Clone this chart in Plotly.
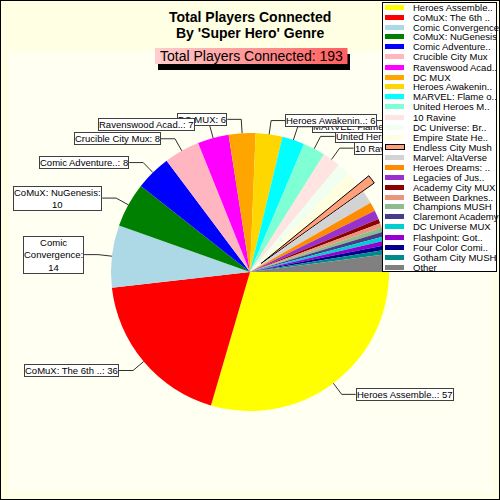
import math
import plotly.graph_objects as go

# ---------------- data ----------------
labels = ["Heroes Assemble..", "CoMuX: The 6th ..", "Comic Convergence", "CoMuX: NuGenesis",
          "Comic Adventure..", "Crucible City Mux", "Ravenswood Acad..", "DC MUX",
          "Heroes Awakenin..", "MARVEL: Flame o..", "United Heroes M..", "10 Ravine",
          "DC Universe: Br..", "Empire State He..", "Endless City Mush", "Marvel: AltaVerse",
          "Heroes Dreams: ..", "Legacies of Jus..", "Academy City MUX", "Between Darknes..",
          "Champions MUSH", "Claremont Academy", "DC Universe MUX", "Flashpoint: Got..",
          "Four Color Comi..", "Gotham City MUSH", "Other"]
players = [57, 36, 14, 10, 8, 8, 7, 6, 6, 5, 5, 4, 3, 3, 2, 3, 2, 2,
           1, 1, 1, 1, 1, 1, 1, 1, 4]
colors = ["#FFFF00", "#FF0000", "#ADD8E6", "#008000", "#0000FF", "#FFB6C1", "#FF00FF",
          "#FFA500", "#FFD700", "#00FFFF", "#7FFFD4", "#FFE4E1", "#F0FFF0", "#FFFFE0",
          "#FFA07A", "#D3D3D3", "#FF8C00", "#9932CC", "#8B0000", "#E9967A", "#8FBC8F",
          "#483D8B", "#00CED1", "#9400D3", "#00008B", "#008B8B", "#808080"]
exploded = "Endless City Mush"
title_lines = ["Total Players Connected", "By 'Super Hero' Genre"]
total = sum(players)
subtitle = f"Total Players Connected: {total}"

# ---------------- layout constants ----------------
W = H = 500
CX, CY, R = 250, 272, 139
PULL = 0.1
FONT = "Liberation Sans, Arial, sans-serif"
LABEL_MIN = 4

def px(x):
    return x / W

def py(y):
    return 1 - y / H

pulls = [PULL if l == exploded else 0 for l in labels]
line_w = [1 if l == exploded else 0 for l in labels]
half = R * (1 + max(pulls))

fig = go.Figure(go.Pie(
    labels=labels, values=players, sort=False, direction="clockwise", rotation=90,
    marker=dict(colors=colors, line=dict(color="#000000", width=line_w)),
    pull=pulls, textinfo="none", showlegend=False, hoverinfo="label+value+percent",
    domain=dict(x=[px(CX - half), px(CX + half)], y=[py(CY + half), py(CY - half)]),
))

shapes = []
annotations = []

# backgrounds
shapes.append(dict(type="rect", xref="paper", yref="paper", x0=px(9), x1=px(493),
                   y0=py(493), y1=py(51), fillcolor="#FFFFF2", line=dict(width=0), layer="below"))
shapes.append(dict(type="rect", xref="paper", yref="paper", x0=0, x1=1, y0=0, y1=1,
                   line=dict(color="#000000", width=2), layer="above"))

# title
for k, t in enumerate(title_lines):
    annotations.append(dict(text=f"<b>{t}</b>", x=px(250), y=py(17 + 16 * k), xref="paper",
                            yref="paper", xanchor="center", yanchor="middle", showarrow=False,
                            font=dict(family=FONT, size=14, color="#000000")))

# subtitle box with shadow and gradient
bx0, bx1, by0, by1 = 155, 347, 48, 64
shapes.append(dict(type="rect", xref="paper", yref="paper", x0=px(bx0 + 3), x1=px(bx1 + 3),
                   y0=py(by1 + 6), y1=py(by0 + 6), fillcolor="#000000", line=dict(width=0),
                   layer="below"))
nstrip = 32
for s in range(nstrip):
    f = s / (nstrip - 1)
    g = int(205 - 110 * f)
    shapes.append(dict(type="rect", xref="paper", yref="paper",
                       x0=px(bx0 + (bx1 - bx0) * s / nstrip),
                       x1=px(bx0 + (bx1 - bx0) * (s + 1) / nstrip + 0.5),
                       y0=py(by1), y1=py(by0), fillcolor=f"rgb(255,{g},{g})",
                       line=dict(width=0), layer="below"))
annotations.append(dict(text=subtitle, x=px((bx0 + bx1) / 2), y=py((by0 + by1) / 2),
                        xref="paper", yref="paper", xanchor="center", yanchor="middle",
                        showarrow=False, font=dict(family=FONT, size=14, color="#000000")))

# slice labels with elbow leaders
CHAR_W = 4.6
lab_ann = []
cum = 0
for lab, v in zip(labels, players):
    mid = (cum + v / 2) / total * 2 * math.pi
    cum += v
    if v < LABEL_MIN or lab == "Other":
        continue
    c, s = math.cos(mid), math.sin(mid)
    ex, ey = CX + R * c, CY + R * s
    ebx, eby = CX + 1.1 * R * c, CY + 1.1 * R * s
    right = c > 0
    tx = ebx + 14 if right else ebx - 14
    shapes.append(dict(type="path", xref="paper", yref="paper",
                       path=f"M {px(ex)},{py(ey)} L {px(ebx)},{py(eby)} L {px(tx)},{py(eby)}",
                       line=dict(color="#303030", width=1), layer="above"))
    text = f"{lab}: {v}"
    avail = (W - tx - 10) if right else (tx - 12)
    if len(text) * CHAR_W > avail:
        maxc = avail / CHAR_W
        words = (lab + ":").split(" ")
        lines, cur = [], ""
        for w_ in words:
            cand = (cur + " " + w_).strip()
            if len(cand) <= maxc or not cur:
                cur = cand
            else:
                lines.append(cur)
                cur = w_
        lines.append(cur)
        lines.append(str(v))
        text = "<br>".join(lines)
    lab_ann.append(dict(text=text, x=px(tx), y=py(eby), xref="paper", yref="paper",
                        xanchor="left" if right else "right", yanchor="middle",
                        showarrow=False, align="center", bgcolor="#FFFFFF",
                        bordercolor="#404040", borderwidth=1, borderpad=0,
                        font=dict(family=FONT, size=9.5, color="#000000")))
annotations.extend(reversed(lab_ann))

# custom legend (drawn above labels)
LX0, LX1, LY0, LY1 = 382, 497, 2, 272
annotations.append(dict(text=" ", x=px(LX0), y=py(LY0), xref="paper", yref="paper",
                        xanchor="left", yanchor="top", showarrow=False, width=LX1 - LX0 - 2,
                        height=LY1 - LY0 - 2, bgcolor="#FFFFFF", bordercolor="#000000",
                        borderwidth=1, borderpad=0))
for i, (lab, col) in enumerate(zip(labels, colors)):
    yc = 7 + 10 * i
    is_ex = lab == exploded
    annotations.append(dict(text=" ", x=px(385), y=py(yc), xref="paper", yref="paper",
                            xanchor="left", yanchor="middle", showarrow=False,
                            width=19 if not is_ex else 18, height=5 if not is_ex else 4,
                            bgcolor=col, bordercolor="#000000",
                            borderwidth=1 if is_ex else 0, borderpad=0,
                            font=dict(size=4)))
    annotations.append(dict(text=lab, x=px(411), y=py(yc), xref="paper", yref="paper",
                            xanchor="left", yanchor="middle", showarrow=False,
                            font=dict(family=FONT, size=9.5, color="#000000")))

fig.update_layout(width=W, height=H, margin=dict(l=0, r=0, t=0, b=0),
                  paper_bgcolor="#FFFFE4", plot_bgcolor="#FFFFE4",
                  shapes=shapes, annotations=annotations, showlegend=False)
fig.write_html("out.html")
